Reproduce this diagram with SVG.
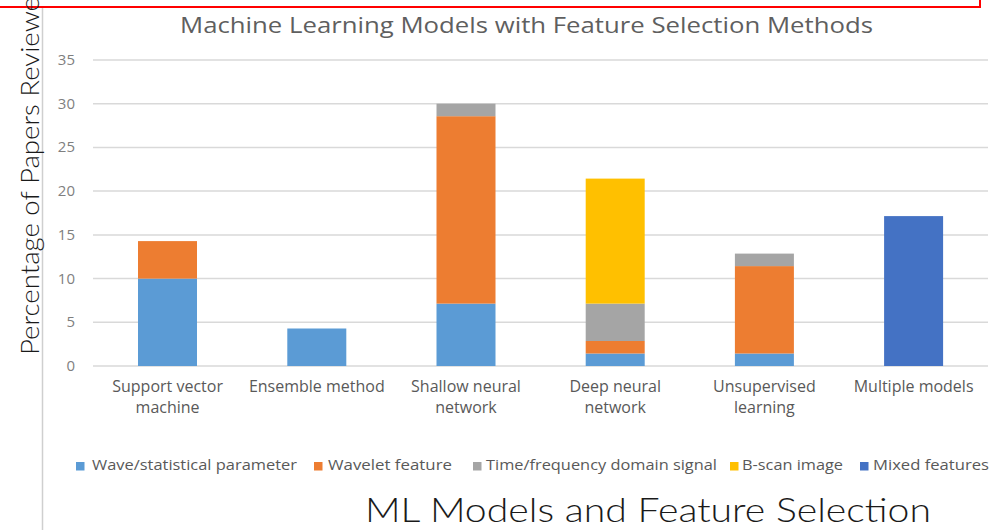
<svg xmlns="http://www.w3.org/2000/svg" width="1008" height="530" viewBox="0 0 1008 530">
  <style>
    .grid { stroke: #d9d9d9; stroke-width: 1.5; }
    .tick { font-family: "Open Sans", "Liberation Sans", sans-serif; font-size: 15px; fill: #7f7f7f; text-anchor: end; }
    .cat { font-family: "Open Sans", "Liberation Sans", sans-serif; font-size: 16px; fill: #595959; text-anchor: middle; }
    .leg { font-family: "Open Sans", "Liberation Sans", sans-serif; font-size: 15px; fill: #595959; }
    .title { font-family: "Open Sans", "Liberation Sans", sans-serif; font-size: 21px; fill: #5f5f5f; }
    .big { font-family: "Lato", "Liberation Sans", sans-serif; font-weight: 300; fill: #1a1a1a; }
    .s1 { fill: #5b9bd5; }
    .s2 { fill: #ed7d31; }
    .s3 { fill: #a5a5a5; }
    .s4 { fill: #ffc000; }
    .s5 { fill: #4472c4; }
  </style>

  <rect width="1008" height="530" fill="#ffffff"/>

  <!-- red frame edge along the top -->
  <path d="M0 7 H980 V0" fill="none" stroke="#ff0000" stroke-width="2"/>
  <!-- left margin rule -->
  <line x1="42.5" y1="8" x2="42.5" y2="530" stroke="#cfcfcf" stroke-width="1.5"/>

  <!-- chart title -->
  <text class="title" x="180" y="33" textLength="693" lengthAdjust="spacingAndGlyphs">Machine Learning Models with Feature Selection Methods</text>

  <!-- value axis gridlines -->
  <g id="gridlines">
    <line class="grid" x1="93" y1="60" x2="988" y2="60"/>
    <line class="grid" x1="93" y1="103.7" x2="988" y2="103.7"/>
    <line class="grid" x1="93" y1="147.4" x2="988" y2="147.4"/>
    <line class="grid" x1="93" y1="191.1" x2="988" y2="191.1"/>
    <line class="grid" x1="93" y1="234.9" x2="988" y2="234.9"/>
    <line class="grid" x1="93" y1="278.6" x2="988" y2="278.6"/>
    <line class="grid" x1="93" y1="322.3" x2="988" y2="322.3"/>
    <line class="grid" x1="93" y1="366" x2="988" y2="366"/>
  </g>

  <g id="tick-labels">
    <text class="tick" x="75" y="65">35</text>
    <text class="tick" x="75" y="108.7">30</text>
    <text class="tick" x="75" y="152.4">25</text>
    <text class="tick" x="75" y="196.1">20</text>
    <text class="tick" x="75" y="239.9">15</text>
    <text class="tick" x="75" y="283.6">10</text>
    <text class="tick" x="75" y="327.3">5</text>
    <text class="tick" x="75" y="371">0</text>
  </g>

  <!-- axis title -->
  <text class="big" font-size="26" transform="translate(39,355) rotate(-90)" textLength="358" lengthAdjust="spacingAndGlyphs">Percentage of Papers Reviewe</text>

  <!-- stacked bars, one group per model -->
  <g id="svm">
    <rect class="s1" x="138" y="278.6" width="59" height="87.4"/>
    <rect class="s2" x="138" y="241.1" width="59" height="37.5"/>
    <text class="cat" x="167.6" y="392">Support vector</text>
    <text class="cat" x="167.6" y="413">machine</text>
  </g>
  <g id="ensemble">
    <rect class="s1" x="287.3" y="328.5" width="59" height="37.5"/>
    <text class="cat" x="316.8" y="392">Ensemble method</text>
  </g>
  <g id="shallow-nn">
    <rect class="s1" x="436.5" y="303.6" width="59" height="62.4"/>
    <rect class="s2" x="436.5" y="116.2" width="59" height="187.4"/>
    <rect class="s3" x="436.5" y="103.7" width="59" height="12.5"/>
    <text class="cat" x="466" y="392">Shallow neural</text>
    <text class="cat" x="466" y="413">network</text>
  </g>
  <g id="deep-nn">
    <rect class="s1" x="585.7" y="353.5" width="59" height="12.5"/>
    <rect class="s2" x="585.7" y="341" width="59" height="12.5"/>
    <rect class="s3" x="585.7" y="303.6" width="59" height="37.4"/>
    <rect class="s4" x="585.7" y="178.6" width="59" height="125"/>
    <text class="cat" x="615.2" y="392">Deep neural</text>
    <text class="cat" x="615.2" y="413">network</text>
  </g>
  <g id="unsupervised">
    <rect class="s1" x="734.9" y="353.5" width="59" height="12.5"/>
    <rect class="s2" x="734.9" y="266.1" width="59" height="87.4"/>
    <rect class="s3" x="734.9" y="253.6" width="59" height="12.5"/>
    <text class="cat" x="764.4" y="392">Unsupervised</text>
    <text class="cat" x="764.4" y="413">learning</text>
  </g>
  <g id="multiple">
    <rect class="s5" x="884.1" y="216.1" width="59" height="149.9"/>
    <text class="cat" x="913.6" y="392">Multiple models</text>
  </g>

  <!-- legend -->
  <g id="legend">
    <rect class="s1" x="76" y="462" width="8.5" height="8.5"/>
    <text class="leg" x="92" y="470" textLength="205" lengthAdjust="spacingAndGlyphs">Wave/statistical parameter</text>
    <rect class="s2" x="314" y="462" width="8.5" height="8.5"/>
    <text class="leg" x="328" y="470" textLength="124" lengthAdjust="spacingAndGlyphs">Wavelet feature</text>
    <rect class="s3" x="473" y="462" width="8.5" height="8.5"/>
    <text class="leg" x="486" y="470" textLength="231" lengthAdjust="spacingAndGlyphs">Time/frequency domain signal</text>
    <rect class="s4" x="730" y="462" width="8.5" height="8.5"/>
    <text class="leg" x="742" y="470" textLength="101" lengthAdjust="spacingAndGlyphs">B-scan image</text>
    <rect class="s5" x="860" y="462" width="8.5" height="8.5"/>
    <text class="leg" x="873" y="470" textLength="116" lengthAdjust="spacingAndGlyphs">Mixed features</text>
  </g>

  <!-- caption -->
  <text class="big" font-size="33" x="365" y="522" textLength="566" lengthAdjust="spacingAndGlyphs">ML Models and Feature Selection</text>
</svg>
